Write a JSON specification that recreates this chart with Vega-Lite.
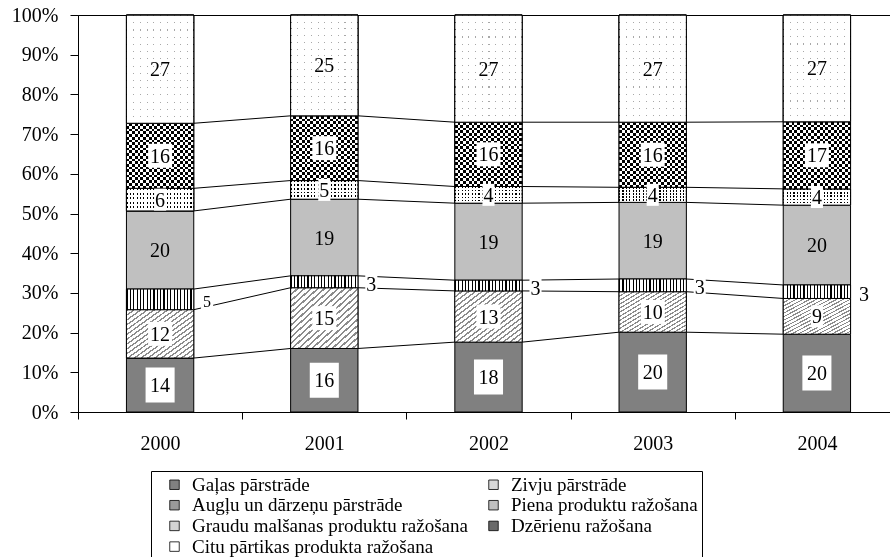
{
  "$schema": "https://vega.github.io/schema/vega-lite/v6.json",
  "width": 812,
  "height": 397,
  "autosize": "none",
  "padding": {"left": 78, "top": 15, "right": 0, "bottom": 145},
  "background": "white",
  "config": {
    "font": "Liberation Serif",
    "view": {"stroke": "#000", "strokeWidth": 1},
    "axis": {"labelFont": "Liberation Serif", "labelColor": "#000", "domainColor": "#000", "tickColor": "#000", "labelFontSize": 20, "labelOverlap": false}
  },
  "data": {
    "values": [
      {"year": "2000", "category": "Gaļas pārstrāde", "k": 1, "value": 13.6},
      {"year": "2000", "category": "Zivju pārstrāde", "k": 2, "value": 12.2},
      {"year": "2000", "category": "Augļu un dārzeņu pārstrāde", "k": 3, "value": 5.2},
      {"year": "2000", "category": "Piena produktu ražošana", "k": 4, "value": 19.7},
      {"year": "2000", "category": "Graudu malšanas produktu ražošana", "k": 5, "value": 5.7},
      {"year": "2000", "category": "Dzērienu ražošana", "k": 6, "value": 16.4},
      {"year": "2000", "category": "Citu pārtikas produkta ražošana", "k": 7, "value": 27.3},
      {"year": "2001", "category": "Gaļas pārstrāde", "k": 1, "value": 16.0},
      {"year": "2001", "category": "Zivju pārstrāde", "k": 2, "value": 15.3},
      {"year": "2001", "category": "Augļu un dārzeņu pārstrāde", "k": 3, "value": 3.0},
      {"year": "2001", "category": "Piena produktu ražošana", "k": 4, "value": 19.3},
      {"year": "2001", "category": "Graudu malšanas produktu ražošana", "k": 5, "value": 4.7},
      {"year": "2001", "category": "Dzērienu ražošana", "k": 6, "value": 16.3},
      {"year": "2001", "category": "Citu pārtikas produkta ražošana", "k": 7, "value": 25.4},
      {"year": "2002", "category": "Gaļas pārstrāde", "k": 1, "value": 17.6},
      {"year": "2002", "category": "Zivju pārstrāde", "k": 2, "value": 12.9},
      {"year": "2002", "category": "Augļu un dārzeņu pārstrāde", "k": 3, "value": 2.7},
      {"year": "2002", "category": "Piena produktu ražošana", "k": 4, "value": 19.4},
      {"year": "2002", "category": "Graudu malšanas produktu ražošana", "k": 5, "value": 4.2},
      {"year": "2002", "category": "Dzērienu ražošana", "k": 6, "value": 16.2},
      {"year": "2002", "category": "Citu pārtikas produkta ražošana", "k": 7, "value": 27.0},
      {"year": "2003", "category": "Gaļas pārstrāde", "k": 1, "value": 20.1},
      {"year": "2003", "category": "Zivju pārstrāde", "k": 2, "value": 10.2},
      {"year": "2003", "category": "Augļu un dārzeņu pārstrāde", "k": 3, "value": 3.2},
      {"year": "2003", "category": "Piena produktu ražošana", "k": 4, "value": 19.3},
      {"year": "2003", "category": "Graudu malšanas produktu ražošana", "k": 5, "value": 3.8},
      {"year": "2003", "category": "Dzērienu ražošana", "k": 6, "value": 16.4},
      {"year": "2003", "category": "Citu pārtikas produkta ražošana", "k": 7, "value": 27.0},
      {"year": "2004", "category": "Gaļas pārstrāde", "k": 1, "value": 19.6},
      {"year": "2004", "category": "Zivju pārstrāde", "k": 2, "value": 9.0},
      {"year": "2004", "category": "Augļu un dārzeņu pārstrāde", "k": 3, "value": 3.4},
      {"year": "2004", "category": "Piena produktu ražošana", "k": 4, "value": 20.1},
      {"year": "2004", "category": "Graudu malšanas produktu ražošana", "k": 5, "value": 4.1},
      {"year": "2004", "category": "Dzērienu ražošana", "k": 6, "value": 16.9},
      {"year": "2004", "category": "Citu pārtikas produkta ražošana", "k": 7, "value": 26.9}
    ]
  },
  "transform": [
    {"stack": "value", "groupby": ["year"], "sort": [{"field": "k", "order": "ascending"}], "offset": "normalize", "as": ["v0", "v1"]},
    {"calculate": "(datum.v0 + datum.v1) / 2", "as": "vm"}
  ],
  "encoding": {
    "x": {"field": "year", "type": "nominal", "scale": {"range": [0, 821], "paddingInner": 0, "paddingOuter": 0},
          "axis": {"title": null, "labelAngle": 0, "tickBand": "extent", "tickSize": 7, "labelPadding": 14}},
    "y": {"field": "v0", "type": "quantitative", "scale": {"domain": [0, 1], "nice": false},
          "axis": {"title": null, "values": [0, 0.1, 0.2, 0.3, 0.4, 0.5, 0.6, 0.7, 0.8, 0.9, 1], "tickCount": 11, "format": ".0%", "grid": false, "tickSize": 8, "labelPadding": 12, "labelOverlap": false, "labelFlush": false, "labelSeparation": -100, "labelBound": false}}
  },
  "layer": [
    {
      "mark": {"type": "bar", "width": {"band": 0.41}, "stroke": "#000", "strokeWidth": 1, "opacity": 1},
      "encoding": {
        "y2": {"field": "v1"},
        "color": {
          "field": "category", "type": "nominal",
          "scale": {
            "domain": ["Gaļas pārstrāde", "Zivju pārstrāde", "Augļu un dārzeņu pārstrāde", "Piena produktu ražošana", "Graudu malšanas produktu ražošana", "Dzērienu ražošana", "Citu pārtikas produkta ražošana"],
            "range": ["#808080", "#d9d9d9", "#9a9a9a", "#c0c0c0", "#d4d4d4", "#6a6a6a", "#ffffff"]
          },
          "legend": {
            "title": null, "orient": "none", "legendX": 73, "legendY": 456, "direction": "horizontal", "columns": 2, "gridAlign": "all",
            "padding": 4, "strokeColor": "#000", "fillColor": "#fff", "symbolType": "square", "symbolSize": 90, "symbolOpacity": 1,
            "symbolStrokeColor": "#000", "symbolStrokeWidth": 0.8, "symbolOffset": 10, "labelOffset": 8,
            "labelFontSize": 19, "labelColor": "#000", "labelFont": "Liberation Serif", "columnPadding": 6, "rowPadding": 0.7, "labelLimit": 400
          }
        }
      }
    },
    {
      "transform": [{"filter": "datum.k === 2"}],
      "mark": {"type": "bar", "width": {"band": 0.41}, "stroke": "#000", "strokeWidth": 1,
        "fill": {"gradient": "linear", "x1": 0, "y1": 0, "x2": 1, "y2": 1, "stops": [
          {"offset": 0, "color": "#8c8c8c"}, {"offset": 0.0175, "color": "#8c8c8c"}, {"offset": 0.0175, "color": "#fff"}, {"offset": 0.05, "color": "#fff"},
          {"offset": 0.05, "color": "#8c8c8c"}, {"offset": 0.0675, "color": "#8c8c8c"}, {"offset": 0.0675, "color": "#fff"}, {"offset": 0.1, "color": "#fff"},
          {"offset": 0.1, "color": "#8c8c8c"}, {"offset": 0.1175, "color": "#8c8c8c"}, {"offset": 0.1175, "color": "#fff"}, {"offset": 0.15, "color": "#fff"},
          {"offset": 0.15, "color": "#8c8c8c"}, {"offset": 0.1675, "color": "#8c8c8c"}, {"offset": 0.1675, "color": "#fff"}, {"offset": 0.2, "color": "#fff"},
          {"offset": 0.2, "color": "#8c8c8c"}, {"offset": 0.2175, "color": "#8c8c8c"}, {"offset": 0.2175, "color": "#fff"}, {"offset": 0.25, "color": "#fff"},
          {"offset": 0.25, "color": "#8c8c8c"}, {"offset": 0.2675, "color": "#8c8c8c"}, {"offset": 0.2675, "color": "#fff"}, {"offset": 0.3, "color": "#fff"},
          {"offset": 0.3, "color": "#8c8c8c"}, {"offset": 0.3175, "color": "#8c8c8c"}, {"offset": 0.3175, "color": "#fff"}, {"offset": 0.35, "color": "#fff"},
          {"offset": 0.35, "color": "#8c8c8c"}, {"offset": 0.3675, "color": "#8c8c8c"}, {"offset": 0.3675, "color": "#fff"}, {"offset": 0.4, "color": "#fff"},
          {"offset": 0.4, "color": "#8c8c8c"}, {"offset": 0.4175, "color": "#8c8c8c"}, {"offset": 0.4175, "color": "#fff"}, {"offset": 0.45, "color": "#fff"},
          {"offset": 0.45, "color": "#8c8c8c"}, {"offset": 0.4675, "color": "#8c8c8c"}, {"offset": 0.4675, "color": "#fff"}, {"offset": 0.5, "color": "#fff"},
          {"offset": 0.5, "color": "#8c8c8c"}, {"offset": 0.5175, "color": "#8c8c8c"}, {"offset": 0.5175, "color": "#fff"}, {"offset": 0.55, "color": "#fff"},
          {"offset": 0.55, "color": "#8c8c8c"}, {"offset": 0.5675, "color": "#8c8c8c"}, {"offset": 0.5675, "color": "#fff"}, {"offset": 0.6, "color": "#fff"},
          {"offset": 0.6, "color": "#8c8c8c"}, {"offset": 0.6175, "color": "#8c8c8c"}, {"offset": 0.6175, "color": "#fff"}, {"offset": 0.65, "color": "#fff"},
          {"offset": 0.65, "color": "#8c8c8c"}, {"offset": 0.6675, "color": "#8c8c8c"}, {"offset": 0.6675, "color": "#fff"}, {"offset": 0.7, "color": "#fff"},
          {"offset": 0.7, "color": "#8c8c8c"}, {"offset": 0.7175, "color": "#8c8c8c"}, {"offset": 0.7175, "color": "#fff"}, {"offset": 0.75, "color": "#fff"},
          {"offset": 0.75, "color": "#8c8c8c"}, {"offset": 0.7675, "color": "#8c8c8c"}, {"offset": 0.7675, "color": "#fff"}, {"offset": 0.8, "color": "#fff"},
          {"offset": 0.8, "color": "#8c8c8c"}, {"offset": 0.8175, "color": "#8c8c8c"}, {"offset": 0.8175, "color": "#fff"}, {"offset": 0.85, "color": "#fff"},
          {"offset": 0.85, "color": "#8c8c8c"}, {"offset": 0.8675, "color": "#8c8c8c"}, {"offset": 0.8675, "color": "#fff"}, {"offset": 0.9, "color": "#fff"},
          {"offset": 0.9, "color": "#8c8c8c"}, {"offset": 0.9175, "color": "#8c8c8c"}, {"offset": 0.9175, "color": "#fff"}, {"offset": 0.95, "color": "#fff"},
          {"offset": 0.95, "color": "#8c8c8c"}, {"offset": 0.9675, "color": "#8c8c8c"}, {"offset": 0.9675, "color": "#fff"}, {"offset": 1, "color": "#fff"}
        ]}},
      "encoding": {"y2": {"field": "v1"}}
    },
    {
      "transform": [{"filter": "datum.k === 3 || datum.k === 5"}],
      "mark": {"type": "bar", "width": {"band": 0.41}, "stroke": "#000", "strokeWidth": 1,
        "fill": {"gradient": "linear", "x1": 0, "y1": 0, "x2": 1, "y2": 0, "stops": [
          {"offset": 0, "color": "#000"}, {"offset": 0.0175, "color": "#000"}, {"offset": 0.0175, "color": "#fff"}, {"offset": 0.05, "color": "#fff"},
          {"offset": 0.05, "color": "#000"}, {"offset": 0.0675, "color": "#000"}, {"offset": 0.0675, "color": "#fff"}, {"offset": 0.1, "color": "#fff"},
          {"offset": 0.1, "color": "#000"}, {"offset": 0.1175, "color": "#000"}, {"offset": 0.1175, "color": "#fff"}, {"offset": 0.15, "color": "#fff"},
          {"offset": 0.15, "color": "#000"}, {"offset": 0.1675, "color": "#000"}, {"offset": 0.1675, "color": "#fff"}, {"offset": 0.2, "color": "#fff"},
          {"offset": 0.2, "color": "#000"}, {"offset": 0.2175, "color": "#000"}, {"offset": 0.2175, "color": "#fff"}, {"offset": 0.25, "color": "#fff"},
          {"offset": 0.25, "color": "#000"}, {"offset": 0.2675, "color": "#000"}, {"offset": 0.2675, "color": "#fff"}, {"offset": 0.3, "color": "#fff"},
          {"offset": 0.3, "color": "#000"}, {"offset": 0.3175, "color": "#000"}, {"offset": 0.3175, "color": "#fff"}, {"offset": 0.35, "color": "#fff"},
          {"offset": 0.35, "color": "#000"}, {"offset": 0.3675, "color": "#000"}, {"offset": 0.3675, "color": "#fff"}, {"offset": 0.4, "color": "#fff"},
          {"offset": 0.4, "color": "#000"}, {"offset": 0.4175, "color": "#000"}, {"offset": 0.4175, "color": "#fff"}, {"offset": 0.45, "color": "#fff"},
          {"offset": 0.45, "color": "#000"}, {"offset": 0.4675, "color": "#000"}, {"offset": 0.4675, "color": "#fff"}, {"offset": 0.5, "color": "#fff"},
          {"offset": 0.5, "color": "#000"}, {"offset": 0.5175, "color": "#000"}, {"offset": 0.5175, "color": "#fff"}, {"offset": 0.55, "color": "#fff"},
          {"offset": 0.55, "color": "#000"}, {"offset": 0.5675, "color": "#000"}, {"offset": 0.5675, "color": "#fff"}, {"offset": 0.6, "color": "#fff"},
          {"offset": 0.6, "color": "#000"}, {"offset": 0.6175, "color": "#000"}, {"offset": 0.6175, "color": "#fff"}, {"offset": 0.65, "color": "#fff"},
          {"offset": 0.65, "color": "#000"}, {"offset": 0.6675, "color": "#000"}, {"offset": 0.6675, "color": "#fff"}, {"offset": 0.7, "color": "#fff"},
          {"offset": 0.7, "color": "#000"}, {"offset": 0.7175, "color": "#000"}, {"offset": 0.7175, "color": "#fff"}, {"offset": 0.75, "color": "#fff"},
          {"offset": 0.75, "color": "#000"}, {"offset": 0.7675, "color": "#000"}, {"offset": 0.7675, "color": "#fff"}, {"offset": 0.8, "color": "#fff"},
          {"offset": 0.8, "color": "#000"}, {"offset": 0.8175, "color": "#000"}, {"offset": 0.8175, "color": "#fff"}, {"offset": 0.85, "color": "#fff"},
          {"offset": 0.85, "color": "#000"}, {"offset": 0.8675, "color": "#000"}, {"offset": 0.8675, "color": "#fff"}, {"offset": 0.9, "color": "#fff"},
          {"offset": 0.9, "color": "#000"}, {"offset": 0.9175, "color": "#000"}, {"offset": 0.9175, "color": "#fff"}, {"offset": 0.95, "color": "#fff"},
          {"offset": 0.95, "color": "#000"}, {"offset": 0.9675, "color": "#000"}, {"offset": 0.9675, "color": "#fff"}, {"offset": 1, "color": "#fff"}
        ]}},
      "encoding": {"y2": {"field": "v1"}}
    },
    {
      "transform": [{"filter": "datum.k === 5"}],
      "mark": {"type": "bar", "width": {"band": 0.41}, "stroke": "#000", "strokeWidth": 1,
        "fill": {"gradient": "linear", "x1": 0, "y1": 0, "x2": 0, "y2": 1, "stops": [
          {"offset": 0, "color": "rgba(255,255,255,0)"}, {"offset": 0.09, "color": "rgba(255,255,255,0)"}, {"offset": 0.09, "color": "#fff"}, {"offset": 0.2, "color": "#fff"},
          {"offset": 0.2, "color": "rgba(255,255,255,0)"}, {"offset": 0.29, "color": "rgba(255,255,255,0)"}, {"offset": 0.29, "color": "#fff"}, {"offset": 0.4, "color": "#fff"},
          {"offset": 0.4, "color": "rgba(255,255,255,0)"}, {"offset": 0.49, "color": "rgba(255,255,255,0)"}, {"offset": 0.49, "color": "#fff"}, {"offset": 0.6, "color": "#fff"},
          {"offset": 0.6, "color": "rgba(255,255,255,0)"}, {"offset": 0.69, "color": "rgba(255,255,255,0)"}, {"offset": 0.69, "color": "#fff"}, {"offset": 0.8, "color": "#fff"},
          {"offset": 0.8, "color": "rgba(255,255,255,0)"}, {"offset": 0.89, "color": "rgba(255,255,255,0)"}, {"offset": 0.89, "color": "#fff"}, {"offset": 1, "color": "#fff"}
        ]}},
      "encoding": {"y2": {"field": "v1"}}
    },
    {
      "transform": [{"filter": "datum.k === 6"}],
      "mark": {"type": "bar", "width": {"band": 0.41}, "stroke": "#000", "strokeWidth": 1,
        "fill": {"gradient": "linear", "x1": 0, "y1": 0, "x2": 0, "y2": 1, "stops": [
          {"offset": 0, "color": "#000"}, {"offset": 0.0417, "color": "#000"}, {"offset": 0.0417, "color": "#fff"}, {"offset": 0.0833, "color": "#fff"},
          {"offset": 0.0833, "color": "#000"}, {"offset": 0.125, "color": "#000"}, {"offset": 0.125, "color": "#fff"}, {"offset": 0.1667, "color": "#fff"},
          {"offset": 0.1667, "color": "#000"}, {"offset": 0.2083, "color": "#000"}, {"offset": 0.2083, "color": "#fff"}, {"offset": 0.25, "color": "#fff"},
          {"offset": 0.25, "color": "#000"}, {"offset": 0.2917, "color": "#000"}, {"offset": 0.2917, "color": "#fff"}, {"offset": 0.3333, "color": "#fff"},
          {"offset": 0.3333, "color": "#000"}, {"offset": 0.375, "color": "#000"}, {"offset": 0.375, "color": "#fff"}, {"offset": 0.4167, "color": "#fff"},
          {"offset": 0.4167, "color": "#000"}, {"offset": 0.4583, "color": "#000"}, {"offset": 0.4583, "color": "#fff"}, {"offset": 0.5, "color": "#fff"},
          {"offset": 0.5, "color": "#000"}, {"offset": 0.5417, "color": "#000"}, {"offset": 0.5417, "color": "#fff"}, {"offset": 0.5833, "color": "#fff"},
          {"offset": 0.5833, "color": "#000"}, {"offset": 0.625, "color": "#000"}, {"offset": 0.625, "color": "#fff"}, {"offset": 0.6667, "color": "#fff"},
          {"offset": 0.6667, "color": "#000"}, {"offset": 0.7083, "color": "#000"}, {"offset": 0.7083, "color": "#fff"}, {"offset": 0.75, "color": "#fff"},
          {"offset": 0.75, "color": "#000"}, {"offset": 0.7917, "color": "#000"}, {"offset": 0.7917, "color": "#fff"}, {"offset": 0.8333, "color": "#fff"},
          {"offset": 0.8333, "color": "#000"}, {"offset": 0.875, "color": "#000"}, {"offset": 0.875, "color": "#fff"}, {"offset": 0.9167, "color": "#fff"},
          {"offset": 0.9167, "color": "#000"}, {"offset": 0.9583, "color": "#000"}, {"offset": 0.9583, "color": "#fff"}, {"offset": 1, "color": "#fff"}
        ]}},
      "encoding": {"y2": {"field": "v1"}}
    },
    {
      "transform": [{"filter": "datum.k === 6"}],
      "mark": {"type": "bar", "width": {"band": 0.41}, "stroke": "#000", "strokeWidth": 1, "blend": "difference",
        "fill": {"gradient": "linear", "x1": 0, "y1": 0, "x2": 1, "y2": 0, "stops": [
          {"offset": 0, "color": "#fff"}, {"offset": 0.0417, "color": "#fff"}, {"offset": 0.0417, "color": "rgba(0,0,0,0)"}, {"offset": 0.0833, "color": "rgba(0,0,0,0)"},
          {"offset": 0.0833, "color": "#fff"}, {"offset": 0.125, "color": "#fff"}, {"offset": 0.125, "color": "rgba(0,0,0,0)"}, {"offset": 0.1667, "color": "rgba(0,0,0,0)"},
          {"offset": 0.1667, "color": "#fff"}, {"offset": 0.2083, "color": "#fff"}, {"offset": 0.2083, "color": "rgba(0,0,0,0)"}, {"offset": 0.25, "color": "rgba(0,0,0,0)"},
          {"offset": 0.25, "color": "#fff"}, {"offset": 0.2917, "color": "#fff"}, {"offset": 0.2917, "color": "rgba(0,0,0,0)"}, {"offset": 0.3333, "color": "rgba(0,0,0,0)"},
          {"offset": 0.3333, "color": "#fff"}, {"offset": 0.375, "color": "#fff"}, {"offset": 0.375, "color": "rgba(0,0,0,0)"}, {"offset": 0.4167, "color": "rgba(0,0,0,0)"},
          {"offset": 0.4167, "color": "#fff"}, {"offset": 0.4583, "color": "#fff"}, {"offset": 0.4583, "color": "rgba(0,0,0,0)"}, {"offset": 0.5, "color": "rgba(0,0,0,0)"},
          {"offset": 0.5, "color": "#fff"}, {"offset": 0.5417, "color": "#fff"}, {"offset": 0.5417, "color": "rgba(0,0,0,0)"}, {"offset": 0.5833, "color": "rgba(0,0,0,0)"},
          {"offset": 0.5833, "color": "#fff"}, {"offset": 0.625, "color": "#fff"}, {"offset": 0.625, "color": "rgba(0,0,0,0)"}, {"offset": 0.6667, "color": "rgba(0,0,0,0)"},
          {"offset": 0.6667, "color": "#fff"}, {"offset": 0.7083, "color": "#fff"}, {"offset": 0.7083, "color": "rgba(0,0,0,0)"}, {"offset": 0.75, "color": "rgba(0,0,0,0)"},
          {"offset": 0.75, "color": "#fff"}, {"offset": 0.7917, "color": "#fff"}, {"offset": 0.7917, "color": "rgba(0,0,0,0)"}, {"offset": 0.8333, "color": "rgba(0,0,0,0)"},
          {"offset": 0.8333, "color": "#fff"}, {"offset": 0.875, "color": "#fff"}, {"offset": 0.875, "color": "rgba(0,0,0,0)"}, {"offset": 0.9167, "color": "rgba(0,0,0,0)"},
          {"offset": 0.9167, "color": "#fff"}, {"offset": 0.9583, "color": "#fff"}, {"offset": 0.9583, "color": "rgba(0,0,0,0)"}, {"offset": 1, "color": "rgba(0,0,0,0)"}
        ]}},
      "encoding": {"y2": {"field": "v1"}}
    },
    {
      "transform": [{"filter": "datum.k === 7"}],
      "mark": {"type": "bar", "width": {"band": 0.41}, "stroke": "#000", "strokeWidth": 1,
        "fill": {"gradient": "linear", "x1": 0, "y1": 0, "x2": 1, "y2": 0, "stops": [
          {"offset": 0, "color": "#a8a8a8"}, {"offset": 0.015, "color": "#a8a8a8"}, {"offset": 0.015, "color": "#fff"}, {"offset": 0.1, "color": "#fff"},
          {"offset": 0.1, "color": "#a8a8a8"}, {"offset": 0.115, "color": "#a8a8a8"}, {"offset": 0.115, "color": "#fff"}, {"offset": 0.2, "color": "#fff"},
          {"offset": 0.2, "color": "#a8a8a8"}, {"offset": 0.215, "color": "#a8a8a8"}, {"offset": 0.215, "color": "#fff"}, {"offset": 0.3, "color": "#fff"},
          {"offset": 0.3, "color": "#a8a8a8"}, {"offset": 0.315, "color": "#a8a8a8"}, {"offset": 0.315, "color": "#fff"}, {"offset": 0.4, "color": "#fff"},
          {"offset": 0.4, "color": "#a8a8a8"}, {"offset": 0.415, "color": "#a8a8a8"}, {"offset": 0.415, "color": "#fff"}, {"offset": 0.5, "color": "#fff"},
          {"offset": 0.5, "color": "#a8a8a8"}, {"offset": 0.515, "color": "#a8a8a8"}, {"offset": 0.515, "color": "#fff"}, {"offset": 0.6, "color": "#fff"},
          {"offset": 0.6, "color": "#a8a8a8"}, {"offset": 0.615, "color": "#a8a8a8"}, {"offset": 0.615, "color": "#fff"}, {"offset": 0.7, "color": "#fff"},
          {"offset": 0.7, "color": "#a8a8a8"}, {"offset": 0.715, "color": "#a8a8a8"}, {"offset": 0.715, "color": "#fff"}, {"offset": 0.8, "color": "#fff"},
          {"offset": 0.8, "color": "#a8a8a8"}, {"offset": 0.815, "color": "#a8a8a8"}, {"offset": 0.815, "color": "#fff"}, {"offset": 0.9, "color": "#fff"},
          {"offset": 0.9, "color": "#a8a8a8"}, {"offset": 0.915, "color": "#a8a8a8"}, {"offset": 0.915, "color": "#fff"}, {"offset": 1, "color": "#fff"}
        ]}},
      "encoding": {"y2": {"field": "v1"}}
    },
    {
      "transform": [{"filter": "datum.k === 7"}],
      "mark": {"type": "bar", "width": {"band": 0.41}, "stroke": "#000", "strokeWidth": 1,
        "fill": {"gradient": "linear", "x1": 0, "y1": 0, "x2": 0, "y2": 1, "stops": [
          {"offset": 0, "color": "rgba(255,255,255,0)"}, {"offset": 0.01, "color": "rgba(255,255,255,0)"}, {"offset": 0.01, "color": "#fff"}, {"offset": 0.0667, "color": "#fff"},
          {"offset": 0.0667, "color": "rgba(255,255,255,0)"}, {"offset": 0.0767, "color": "rgba(255,255,255,0)"}, {"offset": 0.0767, "color": "#fff"}, {"offset": 0.1333, "color": "#fff"},
          {"offset": 0.1333, "color": "rgba(255,255,255,0)"}, {"offset": 0.1433, "color": "rgba(255,255,255,0)"}, {"offset": 0.1433, "color": "#fff"}, {"offset": 0.2, "color": "#fff"},
          {"offset": 0.2, "color": "rgba(255,255,255,0)"}, {"offset": 0.21, "color": "rgba(255,255,255,0)"}, {"offset": 0.21, "color": "#fff"}, {"offset": 0.2667, "color": "#fff"},
          {"offset": 0.2667, "color": "rgba(255,255,255,0)"}, {"offset": 0.2767, "color": "rgba(255,255,255,0)"}, {"offset": 0.2767, "color": "#fff"}, {"offset": 0.3333, "color": "#fff"},
          {"offset": 0.3333, "color": "rgba(255,255,255,0)"}, {"offset": 0.3433, "color": "rgba(255,255,255,0)"}, {"offset": 0.3433, "color": "#fff"}, {"offset": 0.4, "color": "#fff"},
          {"offset": 0.4, "color": "rgba(255,255,255,0)"}, {"offset": 0.41, "color": "rgba(255,255,255,0)"}, {"offset": 0.41, "color": "#fff"}, {"offset": 0.4667, "color": "#fff"},
          {"offset": 0.4667, "color": "rgba(255,255,255,0)"}, {"offset": 0.4767, "color": "rgba(255,255,255,0)"}, {"offset": 0.4767, "color": "#fff"}, {"offset": 0.5333, "color": "#fff"},
          {"offset": 0.5333, "color": "rgba(255,255,255,0)"}, {"offset": 0.5433, "color": "rgba(255,255,255,0)"}, {"offset": 0.5433, "color": "#fff"}, {"offset": 0.6, "color": "#fff"},
          {"offset": 0.6, "color": "rgba(255,255,255,0)"}, {"offset": 0.61, "color": "rgba(255,255,255,0)"}, {"offset": 0.61, "color": "#fff"}, {"offset": 0.6667, "color": "#fff"},
          {"offset": 0.6667, "color": "rgba(255,255,255,0)"}, {"offset": 0.6767, "color": "rgba(255,255,255,0)"}, {"offset": 0.6767, "color": "#fff"}, {"offset": 0.7333, "color": "#fff"},
          {"offset": 0.7333, "color": "rgba(255,255,255,0)"}, {"offset": 0.7433, "color": "rgba(255,255,255,0)"}, {"offset": 0.7433, "color": "#fff"}, {"offset": 0.8, "color": "#fff"},
          {"offset": 0.8, "color": "rgba(255,255,255,0)"}, {"offset": 0.81, "color": "rgba(255,255,255,0)"}, {"offset": 0.81, "color": "#fff"}, {"offset": 0.8667, "color": "#fff"},
          {"offset": 0.8667, "color": "rgba(255,255,255,0)"}, {"offset": 0.8767, "color": "rgba(255,255,255,0)"}, {"offset": 0.8767, "color": "#fff"}, {"offset": 0.9333, "color": "#fff"},
          {"offset": 0.9333, "color": "rgba(255,255,255,0)"}, {"offset": 0.9433, "color": "rgba(255,255,255,0)"}, {"offset": 0.9433, "color": "#fff"}, {"offset": 1, "color": "#fff"}
        ]}},
      "encoding": {"y2": {"field": "v1"}}
    },
    {
      "transform": [
        {"window": [{"op": "lead", "field": "v1", "as": "n1"}, {"op": "lead", "field": "year", "as": "ny"}], "groupby": ["category"], "sort": [{"field": "year", "order": "ascending"}]},
        {"filter": "datum.ny != null && datum.k < 7"}
      ],
      "mark": {"type": "rule", "color": "#000", "strokeWidth": 1, "xOffset": 33.7, "x2Offset": -33.7},
      "encoding": {"x2": {"field": "ny"}, "y": {"field": "v1", "type": "quantitative"}, "y2": {"field": "n1"}}
    },
    {
      "transform": [{"filter": "datum.k === 1 || datum.k === 2 || datum.k === 5 || datum.k === 6"}],
      "mark": {"type": "point", "filled": true, "color": "#fff", "opacity": 1, "strokeWidth": 0},
      "encoding": {
        "y": {"field": "vm", "type": "quantitative"},
        "shape": {"condition": [{"test": "datum.k === 1", "value": "M-0.83,-1H0.83V1H-0.83Z"}, {"test": "datum.value >= 9.5", "value": "M-1,-1H1V1H-1Z"}], "value": "M-0.55,-1H0.55V1H-0.55Z"},
        "size": {"condition": [{"test": "datum.k === 1", "value": 1225}, {"test": "datum.value >= 9.5", "value": 576}], "value": 484}
      }
    },
    {
      "transform": [{"filter": "datum.k === 3"}],
      "mark": {"type": "point", "filled": true, "color": "#fff", "opacity": 1, "strokeWidth": 0, "xOffset": 47, "yOffset": 2, "shape": "M-0.55,-1H0.55V1H-0.55Z", "size": 484},
      "encoding": {"y": {"field": "vm", "type": "quantitative"}}
    },
    {
      "transform": [{"filter": "datum.k !== 3"}],
      "mark": {"type": "text", "fontSize": 20, "baseline": "middle", "color": "#000", "dy": 1},
      "encoding": {"y": {"field": "vm", "type": "quantitative"}, "text": {"field": "value", "type": "quantitative", "format": ".0f"}}
    },
    {
      "transform": [{"filter": "datum.k === 3"}],
      "mark": {"type": "text", "baseline": "middle", "color": "#000", "dx": 47, "dy": 3},
      "encoding": {
        "y": {"field": "vm", "type": "quantitative"},
        "text": {"field": "value", "type": "quantitative", "format": ".0f"},
        "size": {"condition": {"test": "datum.year === '2000'", "value": 16}, "value": 20}
      }
    }
  ]
}
